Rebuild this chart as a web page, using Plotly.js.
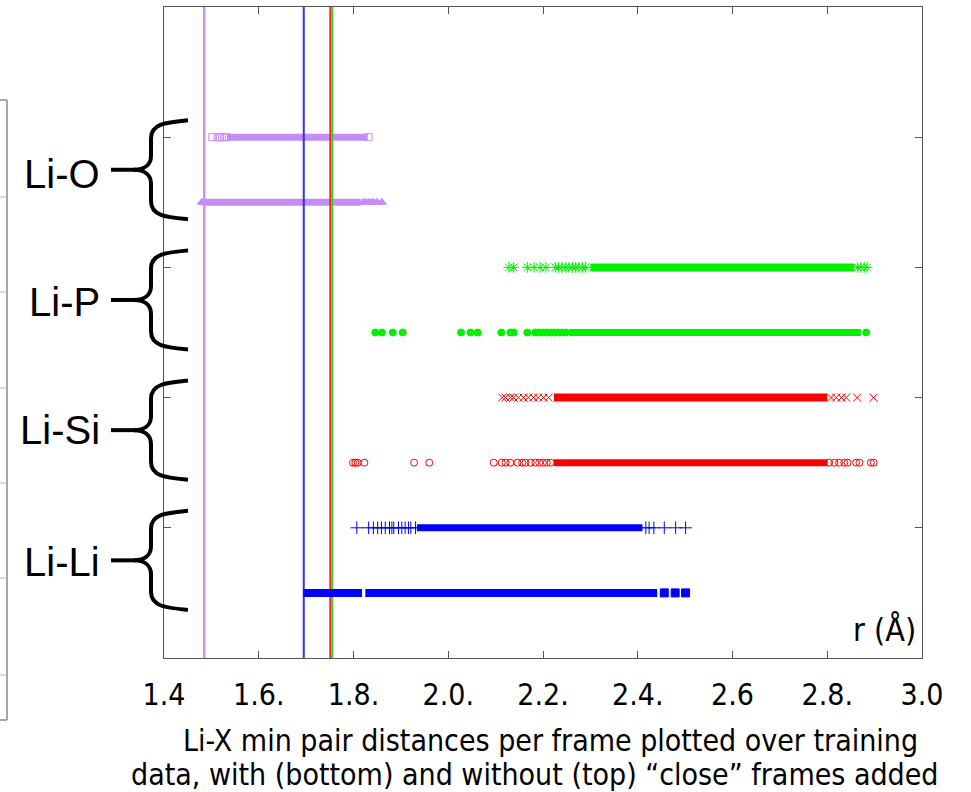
<!DOCTYPE html>
<html>
<head>
<meta charset="utf-8">
<script src="https://cdn.plot.ly/plotly-3.0.1.min.js"></script>
<style>html,body{margin:0;padding:0;background:#fff;} #chart{width:971px;height:792px;}</style>
</head>
<body>
<div id="chart"></div>
<script>
// ---------------- DATA ----------------
const pairs = ["Li-O", "Li-P", "Li-Si", "Li-Li"];
const pairCenterRow = [7.5, 5.5, 3.5, 1.5];

// row index on y axis: "with close" = lower row, "without close" = upper row
const rowWithout = { "Li-O": 8, "Li-P": 6, "Li-Si": 4, "Li-Li": 2 };
const rowWith    = { "Li-O": 7, "Li-P": 5, "Li-Si": 3, "Li-Li": 1 };

// reference (vertical) lines, r in Angstrom
const refPairs = ["Li-O", "Li-Li", "Li-Si", "Li-P"];
const refR     = [1.485, 1.695, 1.751, 1.755];

// Li-O
const liO_without_pts  = [1.502, 1.513, 1.518, 1.522, 1.527, 1.532, 1.832];
const liO_without_band = [1.533, 1.830];
const liO_with_pts     = [1.480, 1.820, 1.826, 1.832, 1.838, 1.843, 1.850, 1.860];
const liO_with_band    = [1.480, 1.815];

// Li-P
const liP_without_pts  = [2.128, 2.138, 2.167, 2.181, 2.194, 2.206, 2.226, 2.233, 2.240, 2.248, 2.255, 2.262, 2.269, 2.276, 2.283, 2.290, 2.864, 2.871, 2.878, 2.884];
const liP_without_band = [2.300, 2.857];
const liP_with_pts     = [1.846, 1.860, 1.883, 1.904, 2.027, 2.047, 2.062, 2.112, 2.131, 2.138, 2.167, 2.184, 2.192, 2.200, 2.208, 2.216, 2.224, 2.232, 2.240, 2.248, 2.882];
const liP_with_band    = [2.255, 2.871];

// Li-Si
const liSi_without_pts  = [2.114, 2.121, 2.131, 2.138, 2.148, 2.159, 2.169, 2.180, 2.190, 2.201, 2.212, 2.808, 2.819, 2.830, 2.840, 2.863, 2.898];
const liSi_without_band = [2.223, 2.800];
const liSi_with_pts     = [1.799, 1.804, 1.809, 1.823, 1.928, 1.960, 2.096, 2.113, 2.121, 2.131, 2.146, 2.156, 2.163, 2.174, 2.184, 2.192, 2.200, 2.208, 2.216, 2.804, 2.815, 2.825, 2.836, 2.843, 2.861, 2.868, 2.892, 2.898];
const liSi_with_band    = [2.223, 2.801];

// Li-Li
const liLi_without_pts  = [1.807, 1.832, 1.842, 1.851, 1.859, 1.867, 1.876, 1.881, 1.885, 1.895, 1.902, 1.909, 1.916, 1.921, 1.931, 2.417, 2.424, 2.434, 2.456, 2.480, 2.501];
const liLi_without_band = [1.934, 2.410];
const liLi_with_pts     = [2.456, 2.479, 2.501];
const liLi_with_band    = [1.694, 1.818, null, 1.825, 2.441];

// x tick labels as printed
const xTickVals = [1.4, 1.6, 1.8, 2.0, 2.2, 2.4, 2.6, 2.8, 3.0];
const xTickText = ["1.4", "1.6.", "1.8.", "2.0.", "2.2.", "2.4.", "2.6", "2.8.", "3.0"];

// ---------------- STYLE ----------------
const colors = { "Li-O": "#c58cf7", "Li-P": "#00f000", "Li-Si": "#ff0000", "Li-Li": "#0000ff" };
const lineColors = { "Li-O": "#c895f5", "Li-P": "#22dd22", "Li-Si": "#ff2222", "Li-Li": "#3030ff" };
const narrow = "'Liberation Sans Narrow', 'DejaVu Sans Condensed', 'Roboto Condensed', sans-serif";

const W = 971, H = 792, ML = 164, MR = 49, MT = 7, MB = 134;
const PW = W - ML - MR, PH = H - MT - MB;
const px = x => (x - ML) / PW;
const py = y => (H - MB - y) / PH;

function rowY(arr, row) { return arr.map(v => (v === null ? null : row)); }
function band(xs, row, color, w) {
  return { type: "scatter", mode: "lines", x: xs, y: rowY(xs, row), line: { color: color, width: w }, connectgaps: false, hoverinfo: "skip", showlegend: false };
}
function pts(xs, row, symbol, color, size) {
  return { type: "scatter", mode: "markers", x: xs, y: rowY(xs, row),
    marker: { symbol: symbol, size: size, color: color, line: { color: color, width: 1 } }, hoverinfo: "skip", showlegend: false };
}

const traces = [];
// Li-O first (underneath the reference lines)
traces.push(band(liO_without_band, rowWithout["Li-O"], colors["Li-O"], 7));
traces.push(pts(liO_without_pts, rowWithout["Li-O"], "square-open", colors["Li-O"], 7));
traces.push(band(liO_with_band, rowWith["Li-O"], colors["Li-O"], 7));
traces.push(pts(liO_with_pts, rowWith["Li-O"], "triangle-up", colors["Li-O"], 8));

// vertical reference lines
refPairs.forEach((p, i) => {
  traces.push({ type: "scatter", mode: "lines", x: [refR[i], refR[i]], y: [0, 10],
    line: { color: lineColors[p], width: p === "Li-O" ? 2.5 : 2 }, hoverinfo: "skip", showlegend: false });
});

// Li-P
traces.push(band(liP_without_band, rowWithout["Li-P"], colors["Li-P"], 8));
traces.push(pts(liP_without_pts, rowWithout["Li-P"], "asterisk-open", colors["Li-P"], 9));
traces.push(band(liP_with_band, rowWith["Li-P"], colors["Li-P"], 7));
traces.push(pts(liP_with_pts, rowWith["Li-P"], "circle", colors["Li-P"], 7));
// Li-Si
traces.push(band(liSi_without_band, rowWithout["Li-Si"], colors["Li-Si"], 8));
traces.push(pts(liSi_without_pts, rowWithout["Li-Si"], "x-thin-open", colors["Li-Si"], 8));
traces.push(band(liSi_with_band, rowWith["Li-Si"], colors["Li-Si"], 7));
traces.push(pts(liSi_with_pts, rowWith["Li-Si"], "circle-open", colors["Li-Si"], 7));
// Li-Li
traces.push(band(liLi_without_band, rowWithout["Li-Li"], colors["Li-Li"], 7));
traces.push(pts(liLi_without_pts, rowWithout["Li-Li"], "cross-thin-open", colors["Li-Li"], 9));
traces.push(band(liLi_with_band, rowWith["Li-Li"], colors["Li-Li"], 8));
traces.push(pts(liLi_with_pts, rowWith["Li-Li"], "square", colors["Li-Li"], 8));

// ---------------- braces & labels ----------------
const shapes = [];
const annotations = [];
const yPx = v => (H - MB) - v * (PH / 10);
function bracePath(midRow) {
  const top = yPx(midRow + 0.73), bot = yPx(midRow - 0.73), mid = yPx(midRow);
  const xe = 188, xs = 151, xt = 134;
  const P = (x, y) => px(x).toFixed(5) + "," + py(y).toFixed(5);
  return "M" + P(xe, top - 2) +
    " C" + P(167, top) + " " + P(xs, top + 1) + " " + P(xs, top + 16) +
    " L" + P(xs, mid - 14) +
    " C" + P(xs, mid - 4) + " " + P(143, mid) + " " + P(xt, mid) +
    " C" + P(143, mid) + " " + P(xs, mid + 4) + " " + P(xs, mid + 14) +
    " L" + P(xs, bot - 16) +
    " C" + P(xs, bot - 1) + " " + P(167, bot) + " " + P(xe, bot + 2);
}
const labelDy = [4, 2, 0, 2];
pairs.forEach((p, i) => {
  const c = pairCenterRow[i];
  shapes.push({ type: "path", xref: "paper", yref: "paper", path: bracePath(c), line: { color: "#000", width: 4 }, layer: "above" });
  shapes.push({ type: "line", xref: "paper", yref: "paper", x0: px(111), x1: px(136), y0: py(yPx(c)), y1: py(yPx(c)), line: { color: "#000", width: 4 }, layer: "above" });
  annotations.push({ xref: "paper", yref: "paper", x: px(102), y: py(yPx(c) + labelDy[i]), xanchor: "right", yanchor: "middle",
    text: p, showarrow: false, font: { family: "'Liberation Sans', Arial, sans-serif", size: 40, color: "#000" } });
});

// partial neighbouring panel at the far left
const gray = "#8a8a8a";
shapes.push({ type: "line", xref: "paper", yref: "paper", x0: px(7), x1: px(7), y0: py(100), y1: py(720), line: { color: gray, width: 1.5 } });
shapes.push({ type: "line", xref: "paper", yref: "paper", x0: px(0), x1: px(7), y0: py(100), y1: py(100), line: { color: gray, width: 1.5 } });
shapes.push({ type: "line", xref: "paper", yref: "paper", x0: px(0), x1: px(7), y0: py(720), y1: py(720), line: { color: gray, width: 1.5 } });
[197, 292, 388, 483, 578, 675].forEach(yy => {
  shapes.push({ type: "line", xref: "paper", yref: "paper", x0: px(0), x1: px(7), y0: py(yy), y1: py(yy), line: { color: "#b0b0b0", width: 1 } });
});

// axis caption & caption text
annotations.push({ xref: "paper", yref: "paper", x: px(918), y: py(630), xanchor: "right", yanchor: "middle",
  text: "r (Å)", showarrow: false, font: { family: narrow, size: 32, color: "#000" } });
annotations.push({ xref: "paper", yref: "paper", x: px(550), y: py(740), xanchor: "center", yanchor: "middle",
  text: "Li-X min pair distances per frame plotted over training", showarrow: false, font: { family: narrow, size: 30, color: "#000" } });
annotations.push({ xref: "paper", yref: "paper", x: px(535), y: py(774), xanchor: "center", yanchor: "middle",
  text: "data, with (bottom) and without (top) “close” frames added", showarrow: false, font: { family: narrow, size: 30, color: "#000" } });

const layout = {
  width: W, height: H,
  margin: { l: ML, r: MR, t: MT, b: MB, pad: 0 },
  paper_bgcolor: "#fff", plot_bgcolor: "#fff",
  showlegend: false,
  xaxis: {
    range: [1.4, 3.0], tickmode: "array", tickvals: xTickVals, ticktext: xTickText,
    ticks: "inside", ticklen: 7, tickcolor: "#555", tickwidth: 1,
    showline: true, linecolor: "#555", linewidth: 1, mirror: "ticks",
    showgrid: false, zeroline: false,
    tickfont: { family: narrow, size: 30, color: "#000" }, ticklabelstandoff: 10
  },
  yaxis: {
    range: [0, 10], tickmode: "array", tickvals: [2, 4, 6, 8], showticklabels: false,
    ticks: "inside", ticklen: 7, tickcolor: "#555", tickwidth: 1,
    showline: true, linecolor: "#555", linewidth: 1, mirror: "ticks",
    showgrid: false, zeroline: false
  },
  shapes: shapes,
  annotations: annotations
};

Plotly.newPlot("chart", traces, layout, { displayModeBar: false, staticPlot: true });
</script>
</body>
</html>
